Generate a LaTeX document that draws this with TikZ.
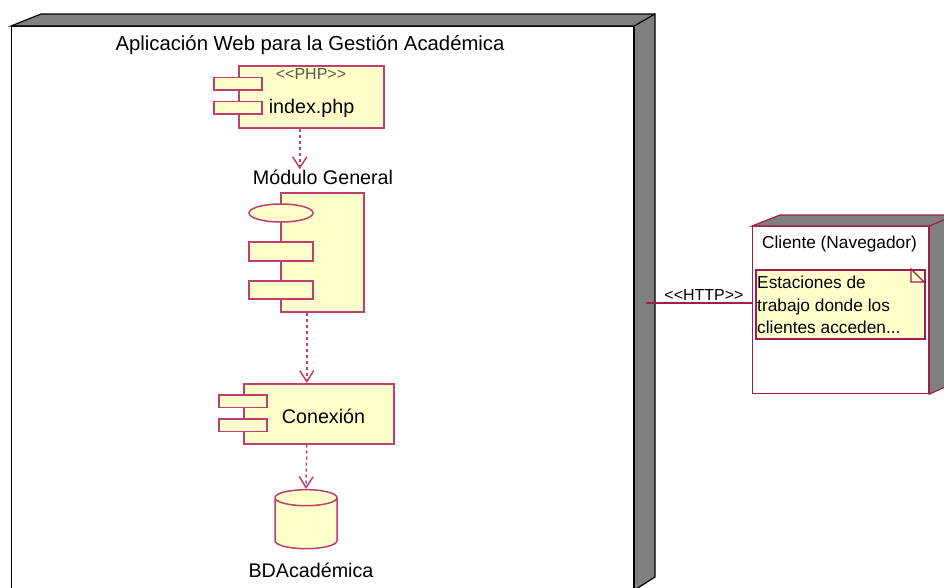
\documentclass[tikz,border=0pt]{standalone}
\usepackage{fontspec}
\setmainfont{Liberation Sans}
\usetikzlibrary{shapes.geometric,arrows.meta}

\definecolor{linea}{HTML}{A01C4C}
\definecolor{trazo}{HTML}{BE3E6C}
\definecolor{relleno}{HTML}{FFFFCC}
\definecolor{sombra}{HTML}{808080}

\tikzset{
	comp/.style={draw=trazo, fill=relleno, line width=1.5pt, inner sep=0pt},
	body/.style={comp, rectangle, anchor=north west},
	tab/.style={comp, rectangle, minimum width=48pt, minimum height=12.5pt},
	dep/.style={draw=trazo, line width=1.5pt, dash pattern=on 3pt off 3pt, -{Straight Barb[length=11pt,width=14pt]}},
	txt/.style={inner sep=0pt, anchor=base, font=\fontsize{19.7}{22}\selectfont},
	small/.style={inner sep=0pt, anchor=base, font=\fontsize{17.3}{19}\selectfont},
	tiny/.style={small, font=\fontsize{16}{18}\selectfont},
}

\begin{document}
\begin{tikzpicture}[x=1pt, y=-1pt]
	\useasboundingbox (0,0) rectangle (944,587);
	\clip (0,0) rectangle (944,587);

	% nodo servidor
	\node[draw=black, fill=white, line width=1.2pt, anchor=north west, minimum width=622pt, minimum height=563pt, inner sep=0pt] (app) at (11,26) {};
	\fill[sombra, draw=black, line width=1.2pt] (app.north west) -- (41,14) -- (655,14) -- (655,577) -- (app.south east) -- (app.north east) -- cycle;
	\draw[black, line width=1.2pt] (app.north east) -- (655,14);
	\node[txt, font=\fontsize{20.3}{22}\selectfont] (apptxt) at (310,50) {Aplicación Web para la Gestión Académica};

	% index.php
	\node[body, minimum width=145pt, minimum height=62pt] (index) at (238,65) {};
	\node[tab] (indextaba) at (238,83.5) {};
	\node[tab] (indextabb) at (238,107.5) {};
	\node[tiny, text=black!65!relleno] (indexst) at (311,79) {{<}{<}PHP{>}{>}};
	\node[txt] (indextxt) at (311.5,113) {index.php};

	% modulo general
	\node[txt] (generaltxt) at (323,184) {Módulo General};
	\node[body, minimum width=83pt, minimum height=119pt] (general) at (280,192) {};
	\node[comp, ellipse, minimum width=64pt, minimum height=18pt] (generalint) at (281,213) {};
	\node[comp, rectangle, minimum width=64pt, minimum height=19pt] (generaltaba) at (281,251.5) {};
	\node[comp, rectangle, minimum width=64pt, minimum height=18pt] (generaltabb) at (281,290) {};

	% conexion
	\node[body, minimum width=150pt, minimum height=60pt] (conexion) at (243,383) {};
	\node[tab] (conexiontaba) at (243,401) {};
	\node[tab] (conexiontabb) at (243,425) {};
	\node[txt] (conexiontxt) at (323.5,423) {Conexión};

	% base de datos
	\node[comp, cylinder, shape border rotate=90, inner sep=10pt, aspect=0.8, minimum width=62pt, minimum height=59pt] (bd) at (306,526.5) {};
	\node[txt] (bdtxt) at (311,577) {BDAcadémica};

	\draw[dep] ([xshift=-11.5pt]index.south) -- ([xshift=-11.5pt]index.south |- generaltxt.north);
	\draw[dep] ([xshift=-15.5pt]general.south) -- ([xshift=-12pt]conexion.north);
	\draw[dep] ([xshift=-12pt]conexion.south) -- (bd.north);

	% cliente
	\node[draw=linea, fill=white, line width=1.2pt, anchor=north west, minimum width=176pt, minimum height=167pt, inner sep=0pt] (cliente) at (752,226) {};
	\fill[sombra, draw=linea, line width=1.2pt] (cliente.north west) -- (780,215) -- (956,215) -- (956,382) -- (cliente.south east) -- (cliente.north east) -- cycle;
	\draw[linea, line width=1.2pt] (cliente.north east) -- (956,215);
	\node[small] (clientetxt) at (839.5,248) {Cliente (Navegador)};

	% nota
	\node[comp, draw=linea, rectangle, anchor=north west, minimum width=169pt, minimum height=69pt] (nota) at (755,269) {};
	\draw[linea, fill=relleno, line width=1.2pt] (911,269) -- (911,282) -- (924,282) -- cycle;
	\node[small, anchor=base west] (notaa) at (757,288) {Estaciones de};
	\node[small, anchor=base west] (notab) at (757,311) {trabajo donde los};
	\node[small, anchor=base west] (notac) at (757,333) {clientes acceden...};

	% enlace
	\coordinate (salida) at (646,303);
	\draw[linea, line width=1.2pt] (salida) -- (cliente.west |- salida);
	\node[tiny] (http) at (704,300) {{<}{<}HTTP{>}{>}};
\end{tikzpicture}
\end{document}
